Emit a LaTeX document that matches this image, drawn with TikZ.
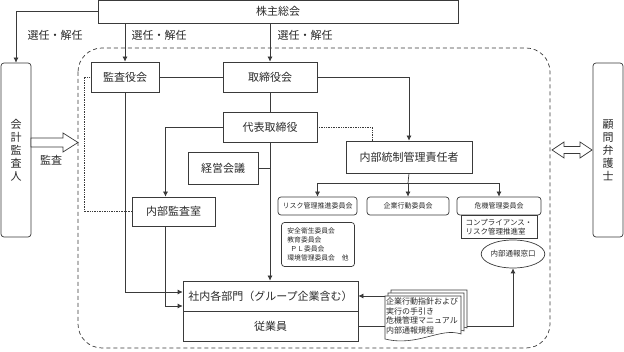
\documentclass[tikz,border=0pt]{standalone}
\usepackage{fontspec}
\setmainfont{Noto Sans CJK JP}
\usetikzlibrary{arrows.meta, positioning, calc, shapes.geometric}
\definecolor{Ink}{HTML}{3A3A3A}
\definecolor{Txt}{HTML}{2A2A2A}

\tikzset{
  orgbox/.style={draw=Ink, fill=white, line width=0.7pt, inner sep=0pt, text=Txt,
    font=\fontsize{11}{13}\selectfont},
  committee/.style={orgbox, rounded corners=3pt, font=\fontsize{7}{9}\selectfont},
  link/.style={draw=Ink, line width=0.7pt},
  arr/.style={link, -{Latex[length=5pt,width=5pt]}},
  dotlink/.style={link, densely dotted},
  memo/.style={text=Txt, font=\fontsize{11}{13}\selectfont},
  hollow/.style={draw=Ink, fill=white, line width=0.7pt},
}

\begin{document}
\begin{tikzpicture}[x=1pt, y=-1pt]
  \useasboundingbox (0,0) rectangle (624,352);
  % company frame
  \draw[Ink, line width=0.7pt, dash pattern=on 4pt off 3pt, rounded corners=24pt]
    (78,48) rectangle (550,348);

  % top level and outside parties
  \node[orgbox, minimum width=360pt, minimum height=22.5pt] (agm) at (278,11.75) {株主総会};
  \node[orgbox, rounded corners=3pt, minimum width=30pt, minimum height=174pt, align=center]
    (auditor) at (16,150) {会\\計\\監\\査\\人};
  \node[orgbox, rounded corners=3pt, minimum width=30pt, minimum height=174pt, align=center]
    (lawyer) at (608,150) {顧\\問\\弁\\護\\士};

  % boards
  \node[orgbox, minimum width=68pt, minimum height=30pt] (kansa) at (125,77) {監査役会};
  \node[orgbox, minimum width=94pt, minimum height=30pt] (board) at (270,77) {取締役会};
  \node[orgbox, minimum width=94pt, minimum height=30pt] (ceo) at (270,127) {代表取締役};
  \node[orgbox, minimum width=70pt, minimum height=32pt] (mgmt) at (223,168) {経営会議};
  \node[orgbox, minimum width=83pt, minimum height=29pt] (audit) at (173.5,211.5) {内部監査室};
  \node[orgbox, minimum width=126pt, minimum height=32pt] (ctrl) at (409,157) {内部統制管理責任者};

  % committees
  \node[committee, minimum width=79pt, minimum height=18pt] (risk) at (317.5,206) {リスク管理推進委員会};
  \node[committee, minimum width=82pt, minimum height=18pt] (conduct) at (408,206) {企業行動委員会};
  \node[orgbox, minimum width=76pt, minimum height=23pt, align=left,
    font=\fontsize{7.5}{9.5}\selectfont] (comp) at (499,227) {コンプライアンス・\\リスク管理推進室};
  \node[committee, minimum width=84pt, minimum height=18pt] (crisis) at (499,206) {危機管理委員会};
  \node[committee, minimum width=73pt, minimum height=44pt, align=left,
    font=\fontsize{6.8}{9}\selectfont] (safety) at (318,244.5)
    {安全衛生委員会\\教育委員会\\\hspace{3pt}ＰＬ委員会\\環境管理委員会　他};
  \node[draw=Ink, fill=white, ellipse, line width=0.7pt, inner sep=0pt, text=Txt,
    minimum width=60pt, minimum height=28pt, font=\fontsize{7.5}{9}\selectfont]
    (hotline) at (513,254) {内部通報窓口};

  % departments
  \node[orgbox, minimum width=175pt, minimum height=30pt] (depts) at (270.5,296)
    {社内各部門（グループ企業含む）};
  \node[orgbox, minimum width=175pt, minimum height=30pt] (staff) at (270.5,326) {従業員};

  % rule books
  \foreach \dx/\dy in {6/-6, 3/-3, 0/0} {
    \draw[Ink, fill=white, line width=0.6pt, shift={(\dx,\dy)}]
      (385,296) -- (461,296) -- (461,334)
      .. controls (440,327) and (418,347) .. (385,339) -- cycle;
  }
  \node[text=Txt, inner sep=1pt, text width=74pt, align=left,
    font=\fontsize{8}{9.5}\selectfont] (rules) at (423,316)
    {企業行動指針および\\実行の手引き\\危機管理マニュアル\\内部通報規程};

  % appointment
  \draw[arr] (agm.west) -| (auditor.north);
  \draw[arr] (agm.south -| kansa.north) -- (kansa.north);
  \draw[arr] (agm.south -| board.north) -- (board.north);
  \node[memo] (elect1) at (55,35) {選任・解任};
  \node[memo] (elect2) at (159,35) {選任・解任};
  \node[memo] (elect3) at (305,35) {選任・解任};

  % reporting lines
  \draw[link] (kansa.east) -- (board.west);
  \draw[arr] (board.east) -| (ctrl.north);
  \draw[link] (board.south) -- (ceo.north);
  \draw[arr] (ceo.west) -| ([xshift=-8pt]audit.north);
  \draw[dotlink] (ceo.east) -| ([xshift=-37pt]ctrl.north);
  \draw[arr] (ceo.south) -- (ceo.south |- depts.north);
  \draw[link] (mgmt.east) -- (mgmt.east -| ceo.south);
  \draw[arr] (kansa.south) |- ([yshift=4pt]depts.west);
  \draw[arr] ([xshift=-8pt]audit.south) |- ([yshift=-10pt]depts.west);
  \coordinate (dotturn) at (84,77);
  \draw[dotlink] (audit.west) -| (dotturn) -- (kansa.west);

  % committees branch
  \coordinate (branch) at (408,183);
  \draw[link] (ctrl.south) -- (branch);
  \draw[arr] (branch) -| (risk.north);
  \draw[arr] (branch) -- (conduct.north);
  \draw[arr] (branch) -| (crisis.north);

  % rules and whistle-blowing
  \draw[arr] (rules.west |- depts.east) -- (depts.east);
  \draw[link] (staff.east) -- (staff.east -| rules.west);
  \draw[arr] ([xshift=6pt]rules.east |- staff.east) -| (hotline.south);

  % audit and counsel arrows
  \draw[hollow] (31,138) -- (63,138) -- (63,133) -- (78,142.5) -- (63,152) -- (63,147)
    -- (31,147) -- cycle;
  \node[memo] (audlabel) at (51,160) {監査};
  \draw[hollow] (552,150) -- (564,142) -- (564,146.5) -- (580,146.5) -- (580,142)
    -- (592,150) -- (580,158) -- (580,153.5) -- (564,153.5) -- (564,158) -- cycle;
\end{tikzpicture}
\end{document}
